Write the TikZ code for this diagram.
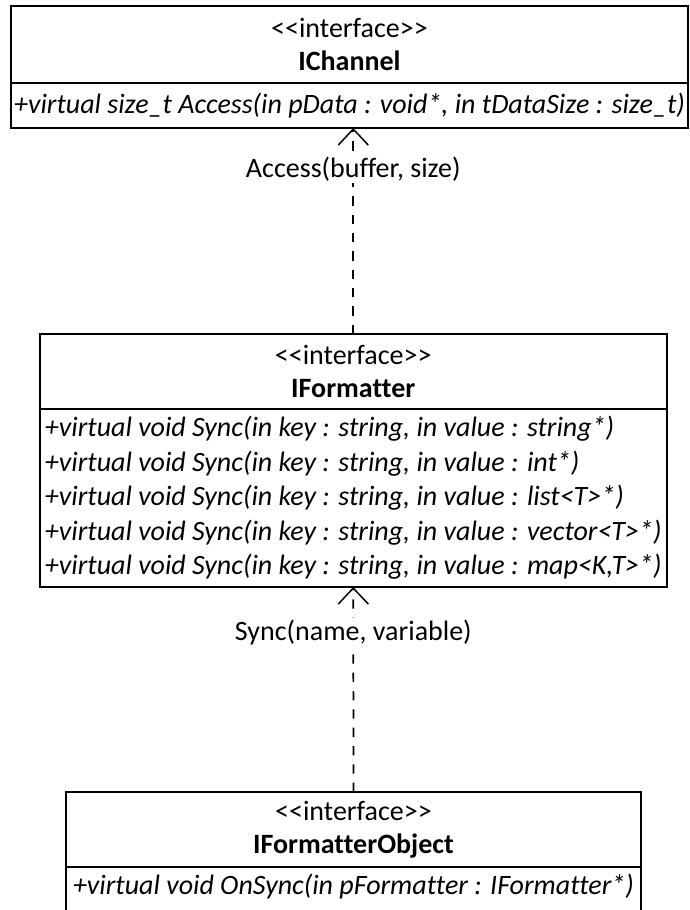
\documentclass[tikz,border=0pt]{standalone}
\usepackage{fontspec}
\newfontfamily\umlfont{Carlito}[Ligatures=NoCommon]
\usetikzlibrary{arrows.meta}
\tikzset{
every picture/.style={
line width=1.5pt
}}

\begin{document}
\begin{tikzpicture}[x=0.75pt, y=-0.75pt,
font=\umlfont\fontsize{21}{24.75}\selectfont,
head/.style = {rectangle, draw=black, inner sep=0pt, outer sep=0pt, align=center, anchor=north west},
body/.style = {rectangle, draw=black, inner xsep=2pt, inner ysep=0pt, outer sep=0pt, align=left, anchor=north west,
  font=\umlfont\itshape\fontsize{21}{25.9}\selectfont},
dep/.style = {dash pattern=on 7pt off 6.75pt, line width=1.3pt,
  -{Straight Barb[length=12pt, width=22.5pt, line width=1.1pt]}},
lbl/.style = {fill=white, inner sep=1pt}]

\useasboundingbox (0,0) rectangle (689,910);

% IChannel
\node[head, minimum width=677*0.75pt, minimum height=77*0.75pt] (chanHead) at (11,6)
  {<<interface>>\\\textbf{IChannel}};
\node[body, minimum width=677*0.75pt, minimum height=45*0.75pt] (chanBody) at (chanHead.south west)
  {+virtual size\_t Access(in pData : void*, in tDataSize : size\_t)};

% IFormatter
\node[head, minimum width=627.5*0.75pt, minimum height=75*0.75pt] (fmtHead) at (39.5,334)
  {<<interface>>\\\textbf{IFormatter}};
\node[body, minimum width=627.5*0.75pt, minimum height=178*0.75pt] (fmtBody) at (fmtHead.south west)
  {+virtual void Sync(in key : string, in value : string*)\\
   +virtual void Sync(in key : string, in value : int*)\\
   +virtual void Sync(in key : string, in value : list<T>*)\\
   +virtual void Sync(in key : string, in value : vector<T>*)\\
   +virtual void Sync(in key : string, in value : map<K,T>*)};

% IFormatterObject
\node[head, minimum width=575*0.75pt, minimum height=75*0.75pt] (objHead) at (66,792)
  {<<interface>>\\\textbf{IFormatterObject}};
\node[body, minimum width=575*0.75pt, inner ysep=4pt, text height=16.5pt, text depth=60pt] (objBody) at (objHead.south west)
  {+virtual void OnSync(in pFormatter : IFormatter*)};

\draw[dep] (objHead.north) -- node[lbl, pos=0.78] (syncLbl) {Sync(name, variable)} (fmtBody.south);
\draw[dep] (fmtHead.north) -- node[lbl, pos=0.8] (accessLbl) {Access(buffer, size)} (fmtHead.north |- chanBody.south);

\end{tikzpicture}
\end{document}
